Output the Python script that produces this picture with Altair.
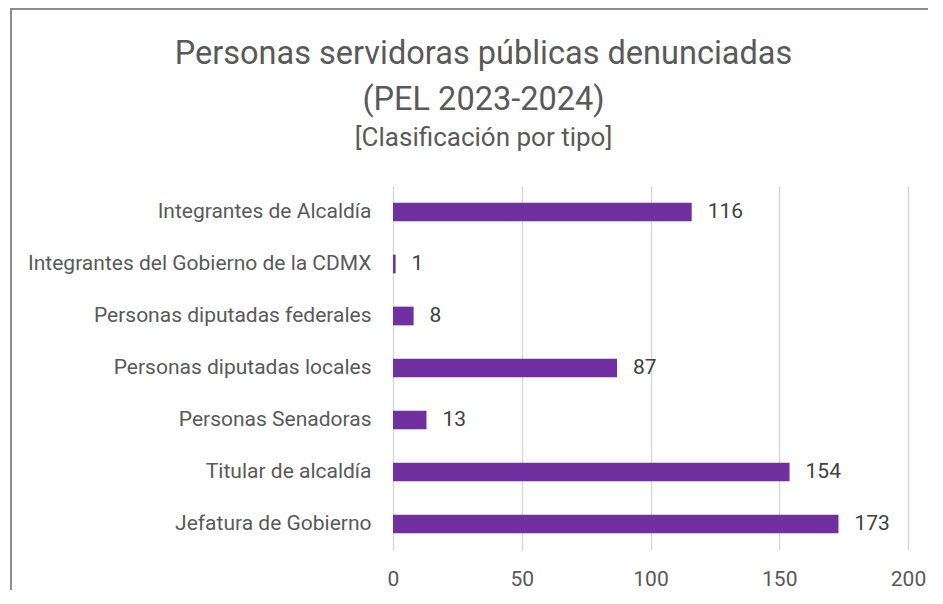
import altair as alt
import pandas as pd

categories = [
    "Integrantes de Alcaldía",
    "Integrantes del Gobierno de la CDMX",
    "Personas diputadas federales",
    "Personas diputadas locales",
    "Personas Senadoras",
    "Titular de alcaldía",
    "Jefatura de Gobierno",
]
values = [116, 1, 8, 87, 13, 154, 173]
x_ticks = [0, 50, 100, 150, 200]

df = pd.DataFrame({"tipo": categories, "n": values})

FONT = "Roboto"
TXT = "#595959"

W, H = 515, 364

y_enc = alt.Y(
    "tipo:N",
    sort=categories,
    scale=alt.Scale(paddingInner=0.64, paddingOuter=0.32),
    axis=alt.Axis(
        title=None, ticks=False, domain=False, labelPadding=22,
        labelFontSize=21, labelColor=TXT, labelFont=FONT, labelLimit=400,
    ),
)
x_enc = alt.X(
    "n:Q",
    scale=alt.Scale(domain=[0, 200], nice=False),
    axis=alt.Axis(
        title=None, values=x_ticks, ticks=False, domain=False,
        labelPadding=18, labelFontSize=21, labelColor=TXT, labelFont=FONT,
        labelFlush=False, gridColor="#D9D9D9", gridWidth=1.5,
    ),
)

bars = alt.Chart(df).mark_bar(color="#7030A0").encode(x=x_enc, y=y_enc)
labels = alt.Chart(df).mark_text(
    align="left", dx=16, fontSize=21, color="#404040", font=FONT
).encode(x="n:Q", y=alt.Y("tipo:N", sort=categories), text="n:Q")

frame = alt.Chart(pd.DataFrame({"a": [0]})).mark_rect(
    fill="transparent", stroke="#8C8C8C", strokeWidth=2
).encode(
    x=alt.value(-382), x2=alt.value(580), y=alt.value(-177), y2=alt.value(440)
)

chart = alt.layer(frame, bars, labels).properties(
    width=W,
    height=H,
    background="white",
    autosize=alt.AutoSizeParams(type="none"),
    padding={"left": 385, "top": 178, "right": 20, "bottom": 40},
    title=alt.TitleParams(
        text=["Personas servidoras públicas denunciadas", "(PEL 2023-2024)"],
        subtitle="[Clasificación por tipo]",
        anchor="middle",
        frame="group",
        dx=-167,
        offset=-143,
        font=FONT,
        fontSize=32.5,
        fontWeight="normal",
        color=TXT,
        lineHeight=46,
        subtitleFont=FONT,
        subtitleFontSize=26,
        subtitleColor=TXT,
        subtitlePadding=9,
    ),
).configure_view(stroke="transparent", strokeWidth=0)

chart.save("out.html", embed_options={"renderer": "svg", "actions": False})
